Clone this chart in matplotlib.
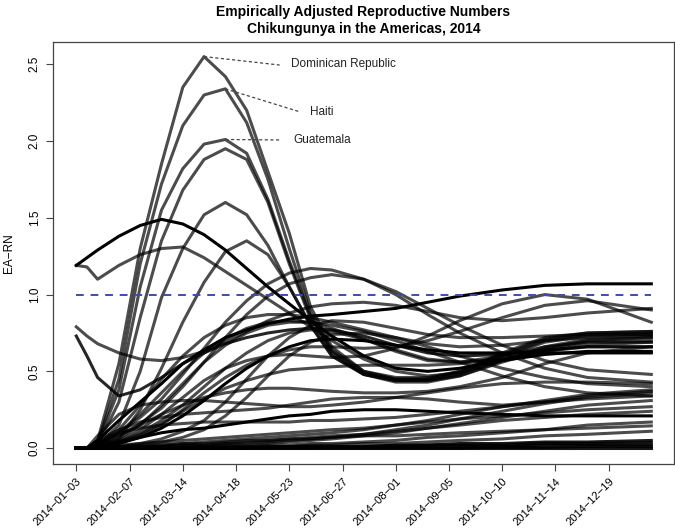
import matplotlib
matplotlib.use("Agg")
import matplotlib.pyplot as plt
import matplotlib.transforms as mtransforms

plt.rcParams['font.family'] = ['Liberation Sans', 'DejaVu Sans']

# weeks since 2014-01-03
weeks = [0, 1, 2, 4, 6, 8, 10, 12, 14, 16, 18, 20, 22, 24, 27, 30, 33, 36, 40, 44, 48, 54]

tick_weeks = [0, 5, 10, 15, 20, 25, 30, 35, 40, 45, 50]
tick_labels = ["2014\u221201\u221203", "2014\u221202\u221207", "2014\u221203\u221214",
               "2014\u221204\u221218", "2014\u221205\u221223", "2014\u221206\u221227",
               "2014\u221208\u221201", "2014\u221209\u221205", "2014\u221210\u221210",
               "2014\u221211\u221214", "2014\u221212\u221219"]

dominican = [0, 0, 0.05, 0.55, 1.30, 1.85, 2.35, 2.55, 2.42, 2.20, 1.80, 1.40, 0.92, 0.66, 0.50, 0.46, 0.46, 0.50, 0.62, 0.72, 0.75, 0.76]
haiti = [0, 0, 0.04, 0.45, 1.20, 1.72, 2.10, 2.30, 2.34, 2.12, 1.75, 1.30, 0.88, 0.64, 0.50, 0.45, 0.45, 0.50, 0.61, 0.71, 0.75, 0.76]
guatemala = [0, 0, 0.03, 0.38, 1.05, 1.55, 1.82, 1.98, 2.01, 1.92, 1.62, 1.22, 0.86, 0.63, 0.49, 0.45, 0.45, 0.49, 0.60, 0.70, 0.74, 0.75]

# other countries: (values, darkness)
others = [
    ([0, 0, 0.02, 0.30, 0.85, 1.35, 1.68, 1.88, 1.95, 1.88, 1.60, 1.20, 0.84, 0.62, 0.48, 0.44, 0.44, 0.48, 0.59, 0.69, 0.73, 0.74], 0.7),
    ([0, 0, 0.02, 0.15, 0.50, 0.98, 1.30, 1.52, 1.60, 1.52, 1.32, 1.05, 0.80, 0.60, 0.48, 0.43, 0.43, 0.47, 0.57, 0.66, 0.71, 0.72], 0.7),
    ([0, 0, 0.01, 0.06, 0.25, 0.52, 0.82, 1.08, 1.28, 1.35, 1.26, 1.05, 0.80, 0.60, 0.48, 0.44, 0.44, 0.47, 0.56, 0.64, 0.69, 0.70], 0.7),
    ([1.19, 1.24, 1.29, 1.38, 1.45, 1.49, 1.46, 1.39, 1.29, 1.17, 1.05, 0.94, 0.83, 0.73, 0.60, 0.52, 0.50, 0.52, 0.57, 0.61, 0.63, 0.63], 1.0),
    ([1.19, 1.18, 1.10, 1.19, 1.26, 1.30, 1.31, 1.24, 1.15, 1.06, 0.97, 0.88, 0.79, 0.70, 0.58, 0.50, 0.47, 0.49, 0.57, 0.65, 0.70, 0.72], 0.7),
    ([0, 0, 0.02, 0.10, 0.20, 0.32, 0.48, 0.65, 0.82, 0.96, 1.07, 1.14, 1.17, 1.16, 1.10, 1.00, 0.87, 0.75, 0.62, 0.52, 0.46, 0.43], 0.7),
    ([0, 0, 0.02, 0.08, 0.16, 0.26, 0.40, 0.56, 0.72, 0.87, 0.99, 1.07, 1.11, 1.13, 1.10, 1.02, 0.91, 0.80, 0.67, 0.57, 0.51, 0.48], 0.7),
    ([0, 0, 0.05, 0.18, 0.30, 0.42, 0.55, 0.64, 0.72, 0.77, 0.81, 0.84, 0.86, 0.87, 0.89, 0.91, 0.95, 0.99, 1.03, 1.06, 1.07, 1.07], 1.0),
    ([0.79, 0.73, 0.68, 0.62, 0.58, 0.57, 0.59, 0.63, 0.69, 0.76, 0.83, 0.88, 0.92, 0.94, 0.95, 0.93, 0.89, 0.85, 0.83, 0.85, 0.88, 0.91], 0.7),
    ([0.73, 0.60, 0.46, 0.34, 0.38, 0.46, 0.55, 0.62, 0.68, 0.72, 0.75, 0.77, 0.78, 0.77, 0.73, 0.67, 0.62, 0.60, 0.61, 0.64, 0.66, 0.66], 0.85),
    ([0, 0, 0.01, 0.05, 0.12, 0.22, 0.33, 0.44, 0.52, 0.57, 0.60, 0.61, 0.60, 0.59, 0.60, 0.65, 0.73, 0.83, 0.94, 1.00, 0.97, 0.82], 0.7),
    ([0, 0, 0.01, 0.03, 0.08, 0.15, 0.25, 0.36, 0.46, 0.54, 0.60, 0.64, 0.66, 0.66, 0.65, 0.66, 0.70, 0.76, 0.85, 0.93, 0.96, 0.90], 0.7),
    ([0, 0, 0.02, 0.12, 0.28, 0.45, 0.60, 0.72, 0.80, 0.85, 0.87, 0.87, 0.85, 0.82, 0.77, 0.72, 0.66, 0.60, 0.52, 0.46, 0.42, 0.40], 0.7),
    ([0, 0, 0.01, 0.06, 0.15, 0.28, 0.42, 0.56, 0.67, 0.75, 0.80, 0.82, 0.82, 0.80, 0.76, 0.70, 0.63, 0.56, 0.47, 0.40, 0.36, 0.34], 0.7),
    ([0, 0, 0.02, 0.10, 0.22, 0.36, 0.50, 0.62, 0.71, 0.78, 0.82, 0.83, 0.82, 0.78, 0.71, 0.63, 0.57, 0.56, 0.60, 0.66, 0.69, 0.69], 0.7),
    ([0, 0, 0.01, 0.04, 0.10, 0.18, 0.28, 0.40, 0.52, 0.62, 0.70, 0.75, 0.77, 0.76, 0.71, 0.64, 0.58, 0.56, 0.58, 0.63, 0.66, 0.66], 0.7),
    ([0, 0, 0, 0.01, 0.03, 0.06, 0.11, 0.18, 0.30, 0.45, 0.60, 0.72, 0.80, 0.83, 0.82, 0.78, 0.74, 0.72, 0.72, 0.73, 0.74, 0.74], 0.7),
    ([0, 0, 0, 0.01, 0.02, 0.04, 0.07, 0.12, 0.21, 0.33, 0.47, 0.60, 0.69, 0.74, 0.75, 0.72, 0.68, 0.66, 0.67, 0.70, 0.72, 0.73], 0.7),
    ([0, 0, 0.01, 0.04, 0.09, 0.16, 0.24, 0.32, 0.39, 0.44, 0.48, 0.51, 0.52, 0.53, 0.54, 0.54, 0.54, 0.55, 0.58, 0.63, 0.67, 0.69], 0.7),
    ([0, 0, 0.01, 0.03, 0.07, 0.13, 0.21, 0.31, 0.42, 0.52, 0.60, 0.66, 0.70, 0.71, 0.70, 0.67, 0.64, 0.62, 0.62, 0.62, 0.62, 0.62], 1.0),
    ([0, 0, 0.02, 0.08, 0.15, 0.22, 0.28, 0.33, 0.36, 0.38, 0.39, 0.39, 0.38, 0.37, 0.36, 0.36, 0.37, 0.40, 0.46, 0.55, 0.62, 0.66], 0.7),
    ([0, 0, 0.08, 0.22, 0.28, 0.30, 0.31, 0.31, 0.30, 0.29, 0.28, 0.27, 0.27, 0.28, 0.30, 0.33, 0.36, 0.39, 0.42, 0.43, 0.43, 0.42], 0.7),
    ([0, 0, 0.05, 0.12, 0.17, 0.20, 0.22, 0.23, 0.24, 0.25, 0.26, 0.28, 0.30, 0.32, 0.33, 0.33, 0.32, 0.30, 0.28, 0.30, 0.34, 0.37], 0.7),
    ([0, 0, 0.01, 0.04, 0.07, 0.10, 0.12, 0.13, 0.15, 0.17, 0.19, 0.21, 0.22, 0.24, 0.25, 0.25, 0.24, 0.23, 0.22, 0.21, 0.21, 0.21], 1.0),
    ([0, 0, 0.04, 0.10, 0.13, 0.15, 0.16, 0.17, 0.17, 0.17, 0.17, 0.17, 0.18, 0.18, 0.19, 0.20, 0.22, 0.24, 0.27, 0.30, 0.32, 0.34], 0.7),
    ([0, 0, 0, 0.01, 0.01, 0.02, 0.03, 0.04, 0.05, 0.06, 0.07, 0.08, 0.09, 0.10, 0.12, 0.15, 0.18, 0.22, 0.27, 0.31, 0.35, 0.38], 0.7),
    ([0, 0, 0, 0, 0.01, 0.01, 0.02, 0.02, 0.03, 0.03, 0.04, 0.05, 0.06, 0.07, 0.09, 0.12, 0.15, 0.19, 0.24, 0.29, 0.33, 0.36], 0.7),
    ([0, 0, 0, 0, 0, 0, 0.01, 0.01, 0.02, 0.02, 0.03, 0.04, 0.05, 0.06, 0.08, 0.10, 0.13, 0.16, 0.20, 0.24, 0.28, 0.31], 0.7),
    ([0, 0, 0.01, 0.02, 0.03, 0.04, 0.05, 0.06, 0.07, 0.08, 0.09, 0.10, 0.11, 0.12, 0.13, 0.15, 0.17, 0.19, 0.21, 0.23, 0.25, 0.27], 0.7),
    ([0, 0, 0, 0, 0.01, 0.01, 0.02, 0.02, 0.03, 0.04, 0.05, 0.06, 0.07, 0.08, 0.09, 0.11, 0.13, 0.15, 0.18, 0.20, 0.22, 0.24], 0.7),
    ([0, 0, 0, 0, 0, 0, 0, 0.01, 0.01, 0.01, 0.02, 0.02, 0.03, 0.03, 0.04, 0.05, 0.07, 0.08, 0.10, 0.12, 0.15, 0.17], 0.7),
    ([0, 0, 0, 0.01, 0.01, 0.02, 0.03, 0.03, 0.04, 0.05, 0.05, 0.06, 0.06, 0.07, 0.08, 0.08, 0.09, 0.10, 0.11, 0.12, 0.13, 0.145], 0.7),
    ([0, 0, 0, 0, 0, 0, 0, 0, 0.01, 0.01, 0.01, 0.01, 0.02, 0.02, 0.03, 0.03, 0.04, 0.05, 0.06, 0.08, 0.09, 0.11], 0.7),
    ([0, 0, 0, 0, 0, 0, 0, 0, 0, 0, 0, 0.01, 0.01, 0.01, 0.01, 0.02, 0.02, 0.03, 0.03, 0.04, 0.04, 0.05], 0.9),
    ([0, 0, 0, 0, 0, 0, 0, 0, 0, 0, 0.01, 0.01, 0.01, 0.01, 0.01, 0.01, 0.02, 0.02, 0.02, 0.03, 0.03, 0.035], 0.9),
    ([0, 0, 0, 0, 0, 0, 0, 0, 0, 0, 0, 0, 0, 0.01, 0.01, 0.01, 0.01, 0.01, 0.01, 0.02, 0.02, 0.02], 0.9),
    ([0, 0, 0, 0, 0, 0, 0, 0, 0, 0, 0, 0, 0, 0, 0, 0, 0, 0, 0.005, 0.005, 0.01, 0.01], 0.9),
    ([0, 0, 0, 0, 0, 0, 0, 0, 0, 0, 0, 0, 0, 0, 0, 0, 0, 0, 0, 0, 0, 0], 0.9),
]

fig = plt.figure(figsize=(6.75, 5.29), dpi=100)
ax = fig.add_axes([53.3 / 675, (529 - 463.7) / 529, (674.3 - 53.3) / 675, (463.7 - 42.3) / 529])

lw = 2.2
for vals, a in others:
    ax.plot(weeks, vals, color='black', alpha=a, lw=lw, solid_joinstyle='round')
for vals in (guatemala, haiti, dominican):
    ax.plot(weeks, vals, color='black', alpha=0.7, lw=lw, solid_joinstyle='round')

ax.plot([weeks[0], weeks[-1]], [1, 1], color='#3c4ea8', lw=1.4, dashes=(4, 3.5))

# labels for the three highest peaks
labels = [("Dominican Republic", dominican, (19.1, 2.495), (20.2, 2.50)),
          ("Haiti", haiti, (21.0, 2.19), (21.95, 2.19)),
          ("Guatemala", guatemala, (19.1, 2.007), (20.35, 2.007))]
for name, vals, end, txt in labels:
    i = vals.index(max(vals))
    ax.plot([weeks[i], end[0]], [vals[i], end[1]], color='#444444', lw=0.9, dashes=(2.5, 2))
    ax.text(txt[0], txt[1], name, fontsize=8.5, ha='left', va='center', color='#222222')

ax.set_xlim(-0.04 * 54, 54 * 1.04)
ax.set_ylim(-0.1014, 2.643)
ax.set_xticks(tick_weeks)
ax.set_xticklabels(tick_labels, rotation=45, ha='right', va='top', rotation_mode='anchor', fontsize=8)
shift = mtransforms.ScaledTranslation(2.5 / 72, -1.5 / 72, fig.dpi_scale_trans)
for lab in ax.get_xticklabels():
    lab.set_transform(lab.get_transform() + shift)
ax.set_yticks([0, 0.5, 1.0, 1.5, 2.0, 2.5])
ax.set_yticklabels(["0.0", "0.5", "1.0", "1.5", "2.0", "2.5"], rotation=90, va='center', fontsize=8.5)
ax.tick_params(length=5, width=0.8, color='#444444', pad=4)
for s in ax.spines.values():
    s.set_color('#444444')
    s.set_linewidth(0.9)
ax.set_ylabel("EA\u2212RN", fontsize=8.5, labelpad=10)

fig.text(363.5 / 675, 1 - 12 / 529, "Empirically Adjusted Reproductive Numbers", ha='center', va='center', fontsize=10, fontweight='bold')
fig.text(363.5 / 675, 1 - 29 / 529, "Chikungunya in the Americas, 2014", ha='center', va='center', fontsize=10, fontweight='bold')

fig.savefig("out.png", dpi=100)
